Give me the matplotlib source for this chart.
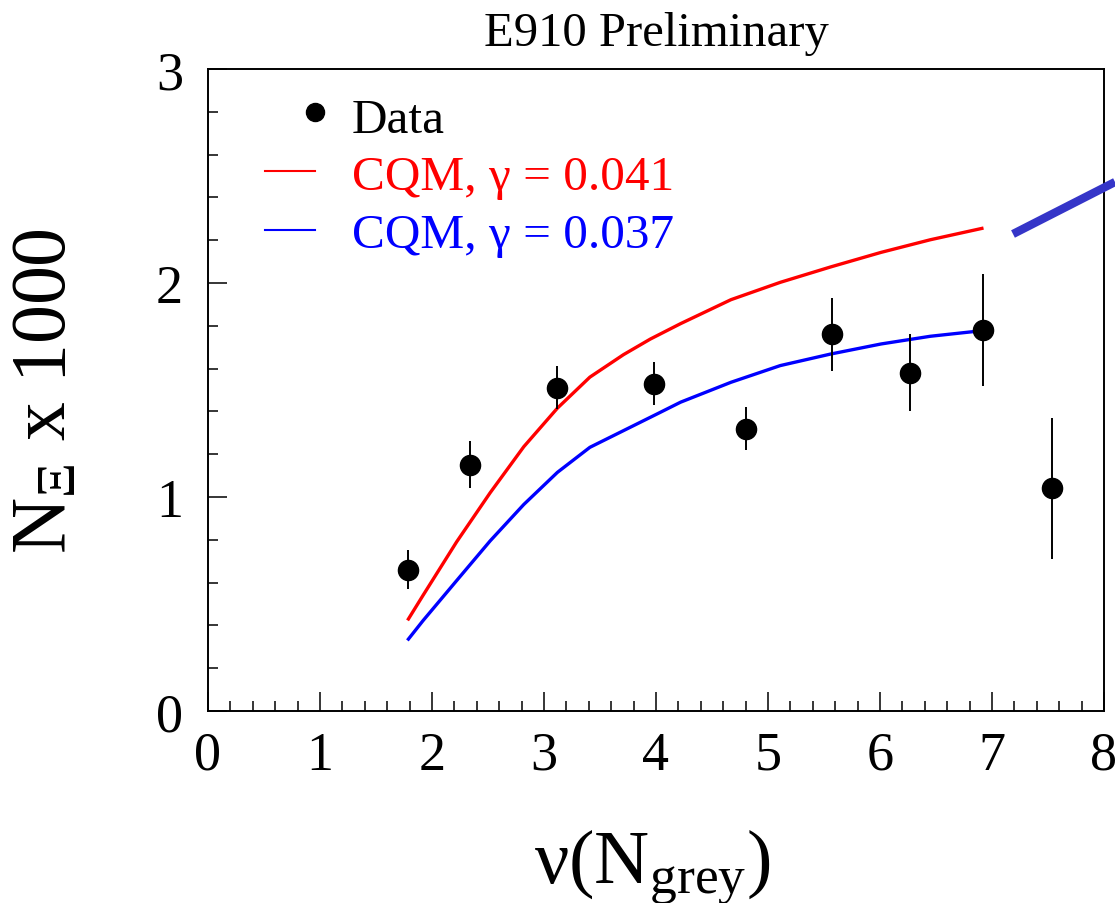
import matplotlib
matplotlib.use("Agg")
import matplotlib.pyplot as plt
from matplotlib.lines import Line2D
from matplotlib.ticker import MultipleLocator

plt.rcParams['font.family'] = ['Liberation Serif', 'DejaVu Serif']
plt.rcParams['mathtext.default'] = 'regular'

# E910 data points
nu = [1.79, 2.34, 3.12, 3.98, 4.80, 5.57, 6.27, 6.92, 7.54]
n_xi = [0.66, 1.15, 1.51, 1.53, 1.32, 1.76, 1.58, 1.78, 1.04]
n_err = [0.09, 0.11, 0.10, 0.10, 0.10, 0.17, 0.18, 0.26, 0.33]

# CQM curves
cqm_x_041 = [1.79, 1.92, 2.22, 2.52, 2.82, 3.12, 3.41, 3.71, 3.95,
             4.22, 4.67, 5.11, 5.56, 6.01, 6.45, 6.91]
cqm_y_041 = [0.43, 0.54, 0.79, 1.02, 1.235, 1.415, 1.56, 1.665, 1.738,
             1.81, 1.922, 2.003, 2.075, 2.143, 2.202, 2.255]
cqm_x_037 = [1.79, 1.92, 2.22, 2.52, 2.82, 3.12, 3.41, 3.71, 4.01,
             4.22, 4.67, 5.11, 5.56, 6.01, 6.45, 6.91]
cqm_y_037 = [0.336, 0.422, 0.609, 0.795, 0.965, 1.115, 1.232, 1.31, 1.388,
             1.443, 1.536, 1.614, 1.668, 1.715, 1.751, 1.777]

legend_labels = ['Data', 'CQM, γ = 0.041', 'CQM, γ = 0.037']
red = '#ff0000'
blue = '#0000ff'

fig = plt.figure(figsize=(11.15, 9.04), dpi=100)
ax = fig.add_axes([0.1865, 0.2124, 0.8036, 0.7102])

ax.plot(cqm_x_041, cqm_y_041, color=red, lw=2.4)
ax.plot(cqm_x_037, cqm_y_037, color=blue, lw=2.4)
ax.errorbar(nu, n_xi, yerr=n_err, fmt='o', color='black', ms=14.5,
            elinewidth=1.4, capsize=0, zorder=3)

ax.set_xlim(0, 8)
ax.set_ylim(0, 3)
ax.xaxis.set_major_locator(MultipleLocator(1))
ax.xaxis.set_minor_locator(MultipleLocator(0.2))
ax.yaxis.set_major_locator(MultipleLocator(1))
ax.yaxis.set_minor_locator(MultipleLocator(0.2))
ax.tick_params(which='both', direction='in', top=False, right=False,
               width=1.1, labelsize=39)
ax.tick_params(which='major', length=14)
ax.tick_params(which='minor', length=7)
ax.tick_params(axis='x', pad=14)
ax.tick_params(axis='y', pad=18)
for s in ax.spines.values():
    s.set_linewidth(1.4)

ax.set_title('E910 Preliminary', fontsize=35, pad=17)
ax.set_ylabel(r'$N_{Ξ}$ x 1000', fontsize=56)
ax.yaxis.set_label_coords(-0.140, 0.5)
ax.set_xlabel(r'$ν(N_{grey})$', fontsize=55)
ax.xaxis.set_label_coords(0.496, -0.18)

# legend drawn by hand, ROOT style (marker at the right end of the sample)
tr = ax.transAxes
ax.plot([0.1194], [0.933], 'o', color='black', ms=13, transform=tr, clip_on=False)
ax.plot([0.0636, 0.1194], [0.841, 0.841], color=red, lw=1.5, transform=tr)
ax.plot([0.0636, 0.1194], [0.749, 0.749], color=blue, lw=1.5, transform=tr)
for lab, col, yb in zip(legend_labels, ['black', red, blue], [0.902, 0.813, 0.723]):
    ax.text(0.1607, yb, lab, color=col, fontsize=35.5, transform=tr,
            ha='left', va='baseline')

# blue pointer line sticking in from the right
fig.add_artist(Line2D([1013 / 1115, 1.0], [1 - 235 / 904, 1 - 183 / 904],
                      transform=fig.transFigure, color='#3535c8', lw=6,
                      solid_capstyle='butt'))

fig.savefig('out.png', dpi=100)
